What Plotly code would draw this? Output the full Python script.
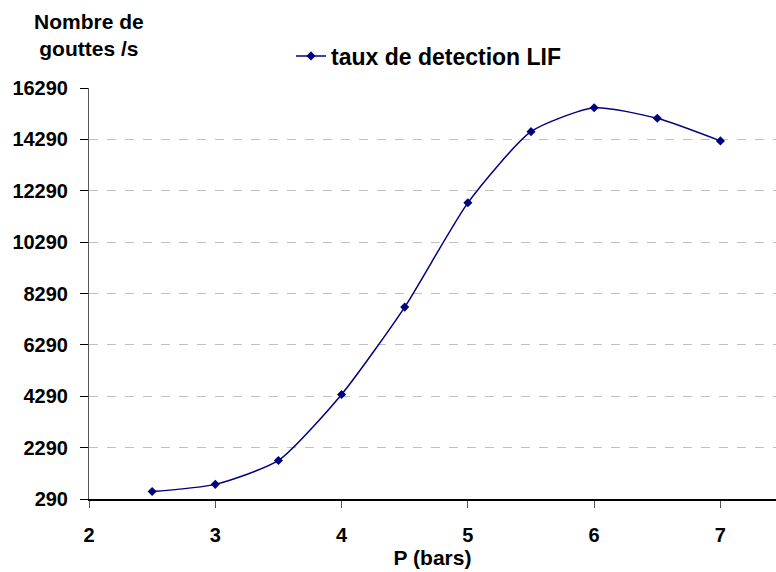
import plotly.graph_objects as go

# Pressure (bars) and detected droplet rate (drops/s)
pression = [2.5, 3, 3.5, 4, 4.5, 5, 5.5, 6, 6.5, 7]
taux_lif = [580, 860, 1790, 4360, 7760, 11820, 14590, 15520, 15110, 14230]

y_ticks = [290, 2290, 4290, 6290, 8290, 10290, 12290, 14290, 16290]
x_ticks = [2, 3, 4, 5, 6, 7]

navy = "#000080"
family = "Liberation Sans, Arial, sans-serif"
tick_font = dict(family=family, size=20, color="black", weight="bold")
title_font = dict(family=family, size=21, color="black", weight="bold")
legend_font = dict(family=family, size=23, color="black", weight="bold")

fig = go.Figure()
fig.add_trace(go.Scatter(
    x=pression, y=taux_lif,
    mode="lines+markers",
    name="taux de detection LIF",
    line=dict(color=navy, width=1.5, shape="spline", smoothing=0.6),
    marker=dict(symbol="diamond", size=7, color=navy),
))

fig.update_layout(
    width=776, height=572,
    margin=dict(l=89, r=0, t=88, b=73),
    paper_bgcolor="white", plot_bgcolor="white",
    showlegend=True,
    legend=dict(
        x=0.294, y=1.078, xanchor="left", yanchor="middle",
        font=legend_font, bgcolor="rgba(0,0,0,0)",
        itemwidth=30,
    ),
    xaxis=dict(
        range=[2, 7.44], tickvals=x_ticks, ticktext=[str(v) for v in x_ticks],
        showgrid=False, zeroline=False,
        showline=True, linecolor="black", linewidth=1.5,
        ticks="outside", ticklen=7, tickcolor="#555", tickwidth=1,
        ticklabelstandoff=10,
        tickfont=tick_font,
        title=dict(text="P (bars)", font=title_font, standoff=4),
    ),
    yaxis=dict(
        range=[290, 16290], tickvals=y_ticks, ticktext=[str(v) for v in y_ticks],
        showgrid=True, gridcolor="#c0c0c0", griddash="dash", gridwidth=1,
        zeroline=False,
        showline=True, linecolor="#555", linewidth=1,
        ticks="outside", ticklen=8, tickcolor="black", tickwidth=1,
        ticklabelstandoff=8,
        tickfont=tick_font,
    ),
    annotations=[dict(
        text="Nombre de<br>gouttes /s",
        xref="paper", yref="paper", x=0.0, y=1.0,
        xanchor="center", yanchor="bottom", yshift=26,
        showarrow=False, font=title_font, align="center",
    )],
)

fig.write_html("out.html")
